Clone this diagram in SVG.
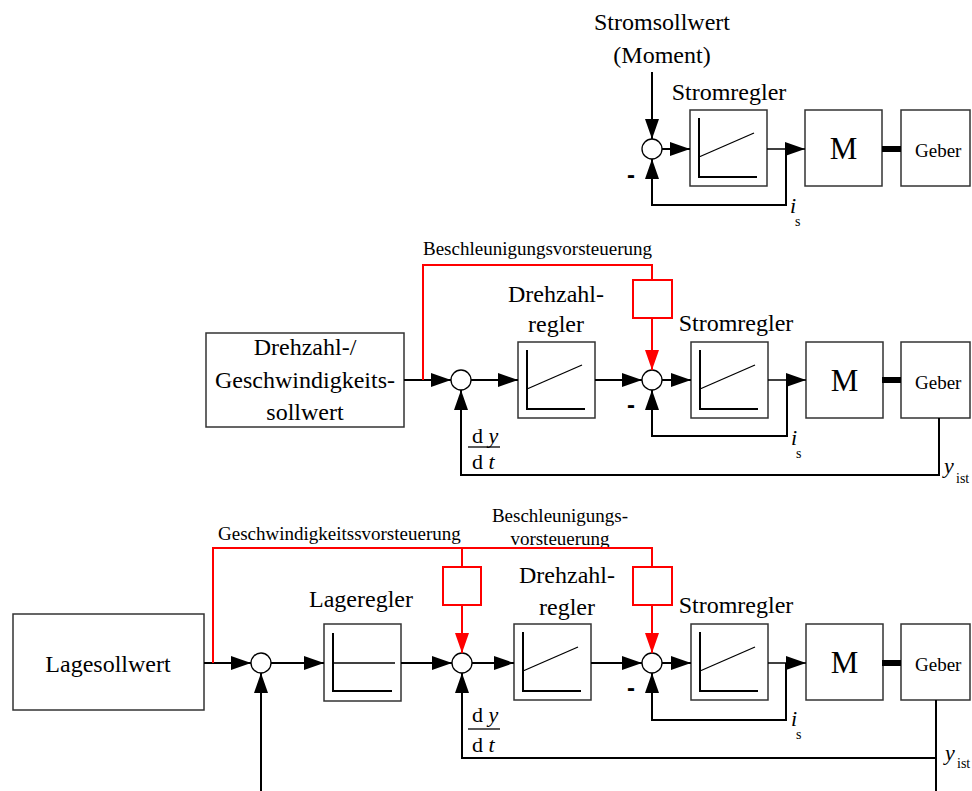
<svg xmlns="http://www.w3.org/2000/svg" xmlns:xlink="http://www.w3.org/1999/xlink" width="972" height="791" viewBox="0 0 972 791" font-family="'Liberation Serif', 'Times New Roman', serif">
  <style>
    .box { fill: #ffffff; stroke: #333333; stroke-width: 1.5; }
    .sum { fill: #ffffff; stroke: #000000; stroke-width: 1.3; }
    .ln { fill: none; stroke: #000000; stroke-width: 2; }
    .thin { fill: none; stroke: #000000; stroke-width: 1.5; }
    .red { fill: none; stroke: #ff0000; stroke-width: 2; }
    .redbox { fill: #ffffff; stroke: #ff0000; stroke-width: 2; }
    .shaft { fill: none; stroke: #000000; stroke-width: 6; }
    .arr { marker-end: url(#ah); }
    .rarr { marker-end: url(#ahr); }
    text { font-family: "Liberation Serif", "Times New Roman", serif; fill: #000000; }
    .big { font-size: 24px; }
    .mid { font-size: 22px; }
    .small { font-size: 19px; }
    .sub { font-size: 14px; }
    .motor { font-size: 31px; }
    .it { font-style: italic; }
    .neg { font-family: "Liberation Sans", Arial, sans-serif; font-weight: bold; font-size: 24px; }
    .c { text-anchor: middle; }
  </style>
  <defs>
    <marker id="ah" markerUnits="userSpaceOnUse" markerWidth="20" markerHeight="14" refX="20" refY="7" orient="auto">
      <path d="M0,0 L20,7 L0,14 z" fill="#000000"/>
    </marker>
    <marker id="ahr" markerUnits="userSpaceOnUse" markerWidth="20" markerHeight="14" refX="20" refY="7" orient="auto">
      <path d="M0,0 L20,7 L0,14 z" fill="#ff0000"/>
    </marker>
    <!-- PI controller block: step response rising ramp -->
    <g id="pi">
      <rect class="box" x="0" y="0" width="77" height="76"/>
      <polyline class="ln" points="9,8 9,67 67,67"/>
      <line x1="9" y1="47" x2="64" y2="23" stroke="#000" stroke-width="1.3"/>
    </g>
    <!-- P controller block: flat response -->
    <g id="p">
      <rect class="box" x="0" y="0" width="77" height="77"/>
      <polyline class="ln" points="9,9 9,67 68,67"/>
      <line x1="9" y1="39" x2="71" y2="39" stroke="#000" stroke-width="1.5"/>
    </g>
    <g id="motor">
      <rect class="box" x="0" y="0" width="77" height="76"/>
      <text class="motor c" x="38.5" y="49">M</text>
    </g>
    <g id="geber">
      <rect class="box" x="0" y="0" width="69" height="76"/>
      <text class="small" x="14" y="47">Geber</text>
    </g>
  </defs>

  <!-- ===== Current loop ===== -->
  <g id="top-setpoint">
    <text class="big c" x="662" y="30">Stromsollwert</text>
    <text class="big c" x="662" y="63">(Moment)</text>
  </g>
  <g id="top-sum">
    <circle class="sum" cx="652" cy="149" r="10"/>
    <text class="neg" x="627" y="183">-</text>
  </g>
  <g id="top-stromregler">
    <text class="big c" x="729" y="100">Stromregler</text>
    <use xlink:href="#pi" x="690" y="110"/>
  </g>
  <g id="top-motor"><use xlink:href="#motor" x="805" y="110"/></g>
  <g id="top-geber"><use xlink:href="#geber" x="901" y="110"/></g>
  <g id="top-connectors">
    <line class="ln arr" x1="652" y1="72" x2="652" y2="139"/>
    <line class="ln arr" x1="662" y1="149" x2="690" y2="149"/>
    <line class="thin arr" x1="767" y1="149" x2="805" y2="149"/>
    <polyline class="ln arr" points="786,149 786,205 652,205 652,159"/>
    <line class="shaft" x1="882" y1="149" x2="901" y2="149"/>
  </g>
  <g id="top-is">
    <text class="mid it" x="790" y="213">i</text>
    <text class="sub" x="795" y="226">s</text>
  </g>

  <!-- ===== Speed loop ===== -->
  <g id="mid-setpoint">
    <rect class="box" x="206" y="333" width="198" height="94"/>
    <text class="big c" x="305" y="355">Drehzahl-/</text>
    <text class="big c" x="305" y="388">Geschwindigkeits-</text>
    <text class="big c" x="305" y="420">sollwert</text>
  </g>
  <g id="mid-sum1"><circle class="sum" cx="461" cy="380" r="10"/></g>
  <g id="mid-drehzahlregler">
    <text class="big c" x="556" y="302">Drehzahl-</text>
    <text class="big c" x="556" y="332">regler</text>
    <use xlink:href="#pi" x="518" y="342"/>
  </g>
  <g id="mid-vorsteuerung">
    <rect class="redbox" x="633" y="280" width="39" height="38"/>
    <text class="small" x="423" y="255">Beschleunigungsvorsteuerung</text>
  </g>
  <g id="mid-sum2">
    <circle class="sum" cx="652" cy="380" r="10"/>
    <text class="neg" x="627" y="413">-</text>
  </g>
  <g id="mid-stromregler">
    <text class="big c" x="736" y="331">Stromregler</text>
    <use xlink:href="#pi" x="691" y="342"/>
  </g>
  <g id="mid-motor"><use xlink:href="#motor" x="806" y="342"/></g>
  <g id="mid-geber"><use xlink:href="#geber" x="901" y="342"/></g>
  <g id="mid-connectors">
    <line class="ln arr" x1="404" y1="380" x2="451" y2="380"/>
    <polyline class="red" points="423,380 423,265 652,265 652,280"/>
    <line class="red rarr" x1="652" y1="318" x2="652" y2="370"/>
    <line class="ln arr" x1="471" y1="380" x2="518" y2="380"/>
    <line class="ln arr" x1="595" y1="380" x2="642" y2="380"/>
    <line class="ln arr" x1="662" y1="380" x2="691" y2="380"/>
    <line class="thin arr" x1="768" y1="380" x2="806" y2="380"/>
    <polyline class="ln arr" points="787,380 787,436 652,436 652,390"/>
    <line class="shaft" x1="882" y1="380" x2="901" y2="380"/>
    <polyline class="ln arr" points="939,418 939,475 461,475 461,390"/>
  </g>
  <g id="mid-labels">
    <text class="mid" x="472" y="443">d <tspan class="it">y</tspan></text>
    <line x1="468" y1="447" x2="500" y2="447" stroke="#000" stroke-width="1.3"/>
    <text class="mid" x="472" y="469">d <tspan class="it">t</tspan></text>
    <text class="mid it" x="791" y="445">i</text>
    <text class="sub" x="796" y="458">s</text>
    <text class="mid it" x="944" y="473">y</text>
    <text class="sub" x="956" y="483">ist</text>
  </g>

  <!-- ===== Position loop ===== -->
  <g id="bot-setpoint">
    <rect class="box" x="13" y="614" width="191" height="96"/>
    <text class="big c" x="108" y="672">Lagesollwert</text>
  </g>
  <g id="bot-sum1"><circle class="sum" cx="261" cy="663" r="10"/></g>
  <g id="bot-lageregler">
    <text class="big c" x="361" y="607">Lageregler</text>
    <use xlink:href="#p" x="324" y="624"/>
  </g>
  <g id="bot-vorsteuerung-v">
    <rect class="redbox" x="443" y="567" width="38" height="38"/>
    <text class="small" x="218" y="540">Geschwindigkeitssvorsteuerung</text>
  </g>
  <g id="bot-sum2"><circle class="sum" cx="462" cy="663" r="10"/></g>
  <g id="bot-drehzahlregler">
    <text class="big c" x="567" y="583">Drehzahl-</text>
    <text class="big c" x="567" y="615">regler</text>
    <use xlink:href="#pi" x="514" y="624"/>
  </g>
  <g id="bot-vorsteuerung-a">
    <rect class="redbox" x="633" y="567" width="39" height="38"/>
    <text class="small c" x="560" y="522">Beschleunigungs-</text>
    <text class="small c" x="560" y="545">vorsteuerung</text>
  </g>
  <g id="bot-sum3">
    <circle class="sum" cx="652" cy="663" r="10"/>
    <text class="neg" x="627" y="696">-</text>
  </g>
  <g id="bot-stromregler">
    <text class="big c" x="736" y="613">Stromregler</text>
    <use xlink:href="#pi" x="691" y="624"/>
  </g>
  <g id="bot-motor"><use xlink:href="#motor" x="806" y="624"/></g>
  <g id="bot-geber"><use xlink:href="#geber" x="901" y="624"/></g>
  <g id="bot-connectors">
    <line class="ln arr" x1="204" y1="663" x2="251" y2="663"/>
    <polyline class="red" points="213,663 213,548 652,548 652,567"/>
    <line class="red" x1="462" y1="548" x2="462" y2="567"/>
    <line class="red rarr" x1="462" y1="605" x2="462" y2="653"/>
    <line class="red rarr" x1="652" y1="605" x2="652" y2="653"/>
    <line class="ln arr" x1="261" y1="791" x2="261" y2="673"/>
    <line class="ln arr" x1="271" y1="663" x2="324" y2="663"/>
    <line class="ln arr" x1="401" y1="663" x2="452" y2="663"/>
    <line class="ln arr" x1="472" y1="663" x2="514" y2="663"/>
    <line class="ln arr" x1="591" y1="663" x2="642" y2="663"/>
    <line class="ln arr" x1="662" y1="663" x2="691" y2="663"/>
    <line class="thin arr" x1="768" y1="663" x2="806" y2="663"/>
    <polyline class="ln arr" points="786,663 786,720 652,720 652,673"/>
    <line class="shaft" x1="882" y1="663" x2="901" y2="663"/>
    <line class="ln" x1="936" y1="700" x2="936" y2="791"/>
    <polyline class="ln arr" points="936,758 462,758 462,673"/>
  </g>
  <g id="bot-labels">
    <text class="mid" x="472" y="722">d <tspan class="it">y</tspan></text>
    <line x1="468" y1="729" x2="500" y2="729" stroke="#000" stroke-width="1.3"/>
    <text class="mid" x="472" y="752">d <tspan class="it">t</tspan></text>
    <text class="mid it" x="791" y="726">i</text>
    <text class="sub" x="796" y="739">s</text>
    <text class="mid it" x="945" y="760">y</text>
    <text class="sub" x="957" y="768">ist</text>
  </g>
</svg>
